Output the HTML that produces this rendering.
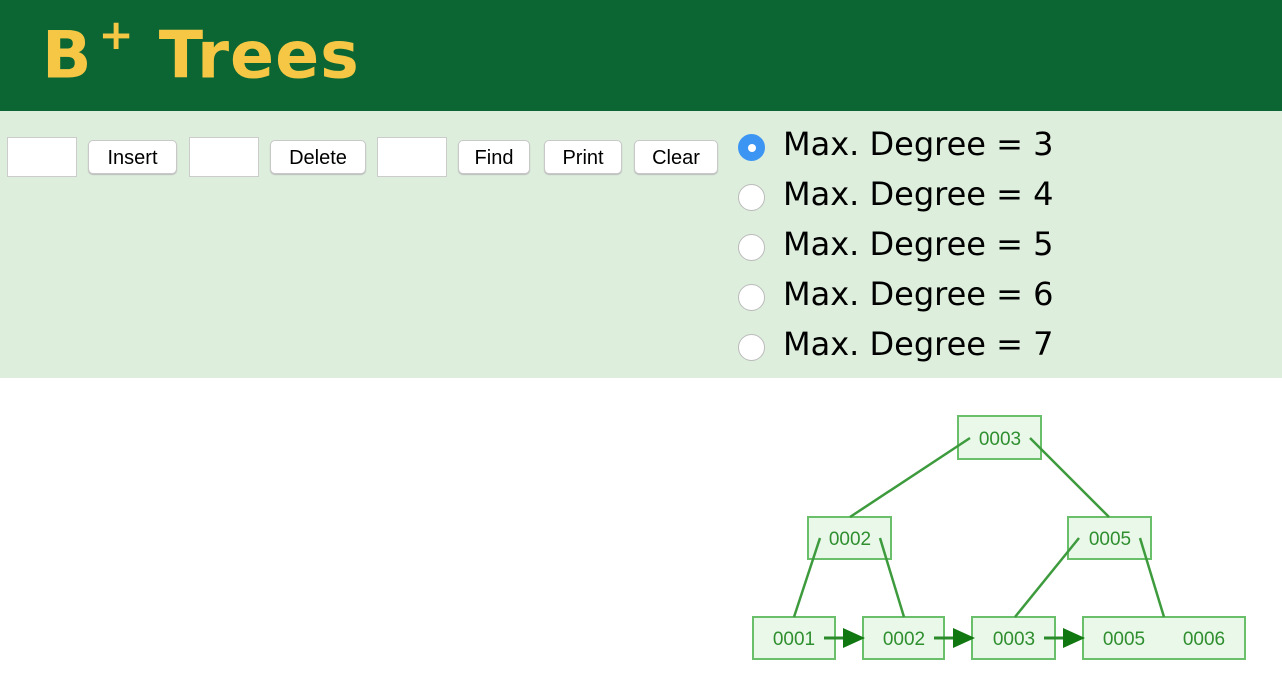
<!DOCTYPE html>
<html><head><style>
body{margin:0;width:1282px;height:700px;overflow:hidden;font-family:"Liberation Sans",sans-serif;background:#fff}
.hdr{position:absolute;left:0;top:0;width:1282px;height:111px;background:#0b6634}
.hdr h1{position:absolute;left:42px;top:16px;margin:0;font-size:65px;font-weight:bold;color:#f6c744;font-family:"DejaVu Sans",sans-serif;letter-spacing:1px;white-space:nowrap}
.hdr sup{font-size:42px;position:relative;top:-6px;margin-left:6px;margin-right:24px}
.ctl{position:absolute;left:0;top:111px;width:1282px;height:267px;background:#ddeedd}
.in{position:absolute;top:26px;width:70px;height:40px;background:#fff;border:1px solid #ccc;box-sizing:border-box}
.bt{position:absolute;top:29px;height:34px;background:#fff;border:1px solid #c8c8c8;border-radius:5px;box-sizing:border-box;font-size:20px;text-align:center;line-height:34px;box-shadow:0 1px 1px #bbb}
.rd{position:absolute;left:738px;width:27px;height:27px;border-radius:50%;background:#fff;border:1px solid #bbb;box-sizing:border-box}
.rl{position:absolute;left:783px;font-size:32px;color:#000;font-family:"DejaVu Sans",sans-serif}
</style></head><body>
<div class="hdr"><h1>B<sup>+</sup>Trees</h1></div>
<div class="ctl">
<div class="in" style="left:7px"></div>
<div class="bt" style="left:88px;width:89px">Insert</div>
<div class="in" style="left:189px"></div>
<div class="bt" style="left:270px;width:96px">Delete</div>
<div class="in" style="left:377px"></div>
<div class="bt" style="left:458px;width:72px">Find</div>
<div class="bt" style="left:544px;width:78px">Print</div>
<div class="bt" style="left:634px;width:84px">Clear</div>
<div class="rd" style="top:23px;background:#3d95f3;border-color:#3d95f3"><div style="position:absolute;left:9px;top:9px;width:8px;height:8px;border-radius:50%;background:#fff"></div></div>
<div class="rd" style="top:73px"></div>
<div class="rd" style="top:123px"></div>
<div class="rd" style="top:173px"></div>
<div class="rd" style="top:223px"></div>
<div class="rl" style="top:14px">Max. Degree = 3</div>
<div class="rl" style="top:64px">Max. Degree = 4</div>
<div class="rl" style="top:114px">Max. Degree = 5</div>
<div class="rl" style="top:164px">Max. Degree = 6</div>
<div class="rl" style="top:214px">Max. Degree = 7</div>
</div>
<svg style="position:absolute;left:0;top:0" width="1282" height="700">
<g fill="#eaf8ea" stroke="#6abf6a" stroke-width="2">
<rect x="958" y="416" width="83" height="43"/>
<rect x="808" y="517" width="83" height="42"/>
<rect x="1068" y="517" width="83" height="42"/>
<rect x="753" y="617" width="82" height="42"/>
<rect x="863" y="617" width="81" height="42"/>
<rect x="972" y="617" width="83" height="42"/>
<rect x="1083" y="617" width="162" height="42"/>
</g>
<g stroke="#3d9b3d" stroke-width="2.5" fill="none">
<line x1="970" y1="438" x2="850" y2="517"/>
<line x1="1030" y1="438" x2="1109" y2="517"/>
<line x1="820" y1="538" x2="794" y2="617"/>
<line x1="880" y1="538" x2="904" y2="617"/>
<line x1="1079" y1="538" x2="1015" y2="617"/>
<line x1="1140" y1="538" x2="1164" y2="617"/>
</g>
<g stroke="#2a8a2a" stroke-width="3" fill="#117711">
<line x1="824" y1="638" x2="848" y2="638"/><path d="M843,628L865,638L843,648z" stroke="none"/>
<line x1="934" y1="638" x2="958" y2="638"/><path d="M953,628L975,638L953,648z" stroke="none"/>
<line x1="1044" y1="638" x2="1068" y2="638"/><path d="M1063,628L1085,638L1063,648z" stroke="none"/>
</g>
<g fill="#2f8f2f" font-family="Liberation Sans,sans-serif" font-size="19" text-anchor="middle">
<text x="1000" y="445">0003</text>
<text x="850" y="545">0002</text>
<text x="1110" y="545">0005</text>
<text x="794" y="645">0001</text>
<text x="904" y="645">0002</text>
<text x="1014" y="645">0003</text>
<text x="1124" y="645">0005</text>
<text x="1204" y="645">0006</text>
</g>
</svg>
</body></html>
